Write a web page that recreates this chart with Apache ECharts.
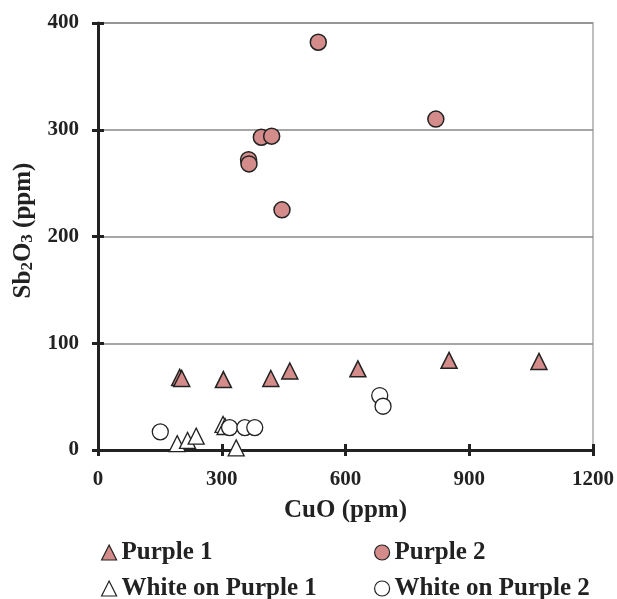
<!DOCTYPE html>
<html><head><meta charset="utf-8">
<script src="https://cdn.jsdelivr.net/npm/echarts@6/dist/echarts.min.js"></script>
<style>html,body{margin:0;padding:0;background:#fff}#c{width:617px;height:599px}</style>
</head><body><div id="c"></div>
<script>
const purple1 = [[198,68],[203,67],[304,66],[419,67],[465,74],[630,76],[851,84],[1069,83]];
const purple2 = [[534,382],[819,310],[396,293],[421,294],[365,272],[366,268],[446,225]];
const whiteP1 = [[192,6],[217,9],[238,13],[303,24],[308,22],[335,2]];
const whiteP2 = [[151,17],[319,21],[356,21],[380,21],[683,51],[691,41]];
const xTicks = [0,300,600,900,1200];
const yTicks = [0,100,200,300,400];
const seriesNames = ['Purple 1','Purple 2','White on Purple 1','White on Purple 2'];

const FONT = "'Liberation Serif','Times New Roman',serif";
const FILL = '#d48c8b';
const EDGE = '#222';
const chart = echarts.init(document.getElementById('c'));
const lbl = {color:'#222',fontFamily:FONT,fontWeight:'bold',fontSize:21,formatter:v=>String(v)};
const tick = {show:true,length:6,lineStyle:{color:'#222',width:3}};
const legText = {color:'#222',fontFamily:FONT,fontWeight:'bold',fontSize:25};
function leg(name,left,top){
  return {left:left,top:top,itemWidth:15,itemHeight:15,itemGap:0,itemStyle:{borderWidth:1.2},
    textStyle:legText,data:[name]};
}
chart.setOption({
  animation:false,
  grid:{left:98,top:23,right:24,bottom:149,show:true,borderColor:'#aaa',borderWidth:1.5},
  xAxis:[{
    type:'value',min:xTicks[0],max:xTicks[xTicks.length-1],interval:300,
    axisLine:{show:true,lineStyle:{color:'#222',width:3}},
    axisTick:tick,
    axisLabel:{...lbl,margin:19},
    splitLine:{show:false},
    name:'CuO (ppm)',nameLocation:'middle',nameGap:48,
    nameTextStyle:{color:'#222',fontFamily:FONT,fontWeight:'bold',fontSize:25}
  },{
    type:'value',min:xTicks[0],max:xTicks[xTicks.length-1],interval:300,position:'bottom',
    axisLine:{show:false},axisLabel:{show:false},splitLine:{show:false},
    axisTick:{...tick,inside:true}
  }],
  yAxis:[{
    type:'value',min:yTicks[0],max:yTicks[yTicks.length-1],interval:100,
    axisLine:{show:true,lineStyle:{color:'#222',width:3}},
    axisTick:tick,
    axisLabel:{...lbl,margin:19},
    splitLine:{show:true,lineStyle:{color:'#888',width:1.5}},
    name:'Sb{s|2}O{s|3} (ppm)',nameLocation:'middle',nameGap:61,
    nameTextStyle:{color:'#222',fontFamily:FONT,fontWeight:'bold',fontSize:25,padding:[0,0,0,12],
      rich:{s:{fontFamily:FONT,fontWeight:'bold',fontSize:17,color:'#222',padding:[10,0,0,0]}}}
  },{
    type:'value',min:yTicks[0],max:yTicks[yTicks.length-1],interval:100,position:'left',
    axisLine:{show:false},axisLabel:{show:false},splitLine:{show:false},
    axisTick:{...tick,inside:true}
  }],
  legend:[
    leg(seriesNames[0],96,535),
    leg(seriesNames[1],369,535),
    leg(seriesNames[2],96,571),
    leg(seriesNames[3],369,571)
  ],
  series:[
    {name:seriesNames[0],type:'scatter',symbol:'triangle',symbolSize:16,data:purple1,
     itemStyle:{color:FILL,borderColor:EDGE,borderWidth:1.5,opacity:1}},
    {name:seriesNames[1],type:'scatter',symbol:'circle',symbolSize:16,data:purple2,
     itemStyle:{color:FILL,borderColor:EDGE,borderWidth:1.5,opacity:1}},
    {name:seriesNames[2],type:'scatter',symbol:'triangle',symbolSize:16,data:whiteP1,
     itemStyle:{color:'#fff',borderColor:EDGE,borderWidth:1.3,opacity:1}},
    {name:seriesNames[3],type:'scatter',symbol:'circle',symbolSize:16,data:whiteP2,
     itemStyle:{color:'#fff',borderColor:EDGE,borderWidth:1.3,opacity:1}}
  ]
});
</script></body></html>
